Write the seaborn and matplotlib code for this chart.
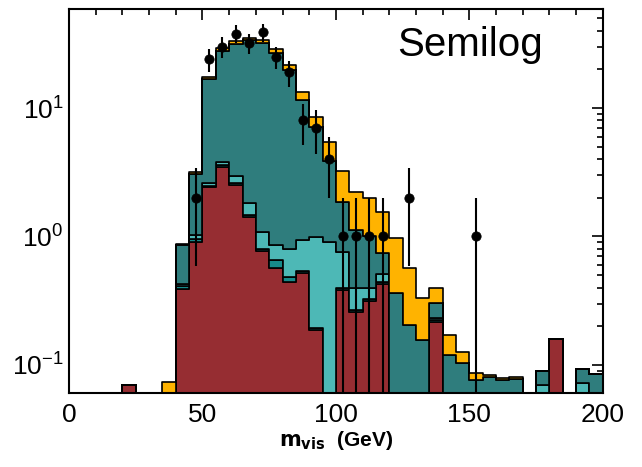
import numpy as np
import pandas as pd
import matplotlib
matplotlib.use("Agg")
import matplotlib.pyplot as plt
from matplotlib.ticker import MultipleLocator, LogLocator, NullFormatter
import seaborn as sns

# ---- data (bin contents), 5 GeV bins from 0 to 200 ----
bin_edges = list(range(0, 205, 5))

red = [0, 0, 0, 0, 0.07, 0, 0, 0,
       0.39, 0.91, 2.44, 3.49, 2.52, 1.41, 0.775, 0.565, 0.445, 0.517, 0.187, 0,
       0.384, 0.26, 0.317, 0.43, 0, 0, 0, 0.217, 0, 0,
       0, 0, 0, 0, 0, 0, 0.159, 0, 0, 0]
darkcyan = [0, 0, 0, 0, 0, 0, 0, 0,
            0.02, 0.04, 0.04, 0.11, 0.08, 0.05, 0.025, 0.09, 0.04, 0.023, 0.008, 0,
            0.016, 0.01, 0.008, 0.01, 0, 0, 0, 0.008, 0, 0,
            0, 0, 0, 0, 0, 0, 0, 0, 0, 0]
lightteal = [0, 0, 0, 0, 0, 0, 0, 0,
             0.02, 0.08, 0.11, 0.22, 0.37, 0.37, 0.28, 0.20, 0.32, 0.40, 0.79, 0.91,
             0.36, 0.125, 0.07, 0.07, 0, 0, 0, 0.005, 0, 0,
             0, 0, 0, 0, 0, 0.07, 0, 0, 0.073, 0]
darkteal = [0, 0, 0, 0, 0, 0, 0, 0,
            0.43, 2.03, 14.2, 24.1, 28.8, 32.0, 31.1, 26.0, 19.0, 10.6, 6.09, 2.99,
            1.11, 0.725, 0.605, 0.23, 0.36, 0.205, 0.155, 0.072, 0.12, 0.103,
            0.077, 0.08, 0.077, 0.078, 0, 0.02, 0, 0, 0.02, 0.085]
orange = [0, 0, 0, 0, 0, 0, 0, 0.074,
          0.02, 0.13, 0.7, 1.3, 1.4, 1.4, 1.6, 1.9, 1.8, 1.9, 1.47, 1.51,
          1.38, 1.11, 0.98, 0.82, 0.61, 0.36, 0.175, 0.098, 0.051, 0.022,
          0.010, 0.0036, 0.002, 0.003, 0, 0, 0, 0, 0, 0]

data_mass = [47.5, 52.5, 57.5, 62.5, 67.5, 72.5, 77.5, 82.5, 87.5, 92.5,
             97.5, 102.5, 107.5, 112.5, 117.5, 127.5, 152.5]
data_count = [2, 24, 30, 38, 32, 39, 25, 19, 8, 7, 4, 1, 1, 1, 1, 2, 1]

x_ticks = [0, 50, 100, 150, 200]

# ---- build long table ----
centers = [(a + b) / 2 for a, b in zip(bin_edges[:-1], bin_edges[1:])]
components = {"orange": orange, "darkteal": darkteal, "lightteal": lightteal,
              "darkcyan": darkcyan, "red": red}
rows = []
for name, vals in components.items():
    for c, v in zip(centers, vals):
        rows.append({"mass": c, "w": v, "comp": name})
df = pd.DataFrame(rows)

palette = {"orange": "#FFB300", "darkteal": "#2F7D7D", "lightteal": "#4DB8B6",
           "darkcyan": "#178A8A", "red": "#962D32"}

sns.set_style("white")
plt.rcParams["font.family"] = ["Liberation Sans", "DejaVu Sans"]
plt.rcParams["mathtext.default"] = "regular"
plt.rcParams["text.color"] = "black"
plt.rcParams["axes.labelcolor"] = "black"
plt.rcParams["xtick.color"] = "black"
plt.rcParams["ytick.color"] = "black"

fig = plt.figure(figsize=(6.42, 4.67), dpi=100)
ax = fig.add_axes([0.1075, 0.1585, 0.8315, 0.8222])

sns.histplot(data=df, x="mass", weights="w", hue="comp",
             hue_order=["orange", "darkteal", "lightteal", "darkcyan", "red"],
             palette=palette, bins=bin_edges, multiple="stack", element="step",
             fill=True, alpha=1, edgecolor="black", linewidth=1.2,
             legend=False, ax=ax)

ax.set_yscale("log")

counts = np.array(data_count, dtype=float)
err = np.sqrt(counts)
lower = np.minimum(err, counts * 0.999)
ax.errorbar(data_mass, counts, yerr=[lower, err], fmt="none", ecolor="black",
            elinewidth=1.5, capsize=0, zorder=5)
sns.scatterplot(x=data_mass, y=counts, color="black", s=45, edgecolor="black",
                zorder=6, ax=ax, legend=False)

ax.set_xlim(0, 200)
ax.set_ylim(0.0605, 59)
ax.set_xticks(x_ticks)
ax.xaxis.set_minor_locator(MultipleLocator(10))
ax.yaxis.set_major_locator(LogLocator(base=10))
ax.yaxis.set_minor_locator(LogLocator(base=10, subs=np.arange(2, 10)))
ax.yaxis.set_minor_formatter(NullFormatter())
ax.tick_params(which="both", direction="in", top=True, right=True, width=1.2,
               colors="black")
ax.tick_params(which="major", length=8, labelsize=19)
ax.tick_params(axis="x", which="major", pad=7)
ax.tick_params(axis="y", which="major", pad=4)
ax.tick_params(which="minor", length=4)
for s in ax.spines.values():
    s.set_linewidth(1.5)
    s.set_color("black")

ax.set_ylabel("")
ax.set_xlabel(r"$\mathbf{m_{vis}}$  (GeV)", fontsize=15, fontweight="bold",
              labelpad=2, color="black")

ax.text(0.615, 0.955, "Semilog", transform=ax.transAxes, fontsize=29,
        ha="left", va="top", color="black")

fig.savefig("out.png", dpi=100)
